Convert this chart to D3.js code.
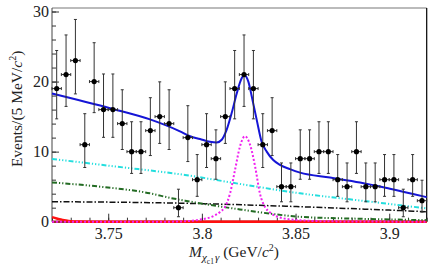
<!DOCTYPE html>
<html>
<head>
<meta charset="utf-8">
<script src="https://cdn.jsdelivr.net/npm/d3@7"></script>
<style>
  body { margin: 0; background: #fff; }
  svg text { font-family: "Liberation Serif", "Times New Roman", serif !important; fill: #222; }
</style>
</head>
<body>
<svg id="chart"></svg>
<script>
// histogram: 40 bins of 5 MeV starting at 3.72 GeV
var binStart = 3.72, binWidth = 0.005;
var counts = [19,21,23,11,20,16,16,14,10,10,13,15,14,2,12,6,11,9,15,19,
              21,19,11,13,5,5,9,9,10,10,6,5,10,5,5,6,6,2,6,3];

// fit curves (x in GeV, y in events)
var totalX = [3.72,3.751,3.7723,3.7883,3.7937,3.799,3.8043,3.8079,3.8106,3.8132,3.8159,3.8186,3.8213,3.8226,
              3.8248,3.8266,3.8293,3.8319,3.8346,3.8381,3.8417,3.847,3.8524,3.8684,3.8844,3.9004,3.92];
var totalY = [18.3,16.2,14.6,12.9,12.2,11.8,11.4,11.3,11.7,13.1,15.5,18.3,20.5,20.9,
              20.0,17.9,14.5,11.4,10.0,8.8,8.1,7.5,7.0,6.3,5.6,4.7,3.5];
var cyanX = [3.72,3.7545,3.791,3.8203,3.8524,3.8853,3.92];
var cyanY = [8.96,7.86,6.67,5.39,4.05,3.0,1.9];
var greenX = [3.72,3.7456,3.7723,3.783,3.791,3.8043,3.8203,3.8364,3.8524,3.8844,3.92];
var greenY = [5.6,5.0,4.05,3.4,3.0,2.4,1.75,1.15,0.7,0.42,0.22];
var blackX = [3.72,3.791,3.8524,3.8853,3.92];
var blackY = [2.86,2.63,2.14,1.81,1.43];
var redX = [3.72,3.7225,3.725,3.7275,3.73,3.735,3.74,3.92];
var redY = [0.65,0.45,0.3,0.17,0.08,0.02,0,0];
var flatX = [3.72,3.92];
var flatY = [0,0];
var sigX = [3.72,3.78,3.7883,3.799,3.8061,3.8097,3.8123,3.815,3.8177,3.8203,3.823,3.8257,
            3.8284,3.831,3.8337,3.8364,3.8417,3.8524,3.87,3.92];
var sigY = [0,0,0.03,0.3,0.8,1.4,2.1,4.0,7.4,10.7,12.2,11.0,7.9,4.0,2.1,1.3,0.6,0.2,0.05,0];

var xMajor = [3.75,3.8,3.85,3.9];
var yMajor = [0,10,20,30];

var W = 440, H = 273;
var margin = {top: 8, right: 13.3, bottom: 51.3, left: 52};
var width = W - margin.left - margin.right,
    height = H - margin.top - margin.bottom;
var serif = '"Liberation Serif", "Times New Roman", serif';

var svg = d3.select("#chart").attr("width", W).attr("height", H)
    .append("g")
    .attr("transform", "translate(" + margin.left + "," + margin.top + ")");

var x = d3.scaleLinear().domain([3.72, 3.92]).range([0, width]);
var y = d3.scaleLinear().domain([0, 30.5]).range([height, 0]);

// frame
svg.append("line").attr("x1", 0).attr("x2", width).attr("y1", 0).attr("y2", 0)
    .attr("stroke", "#bbb").attr("stroke-width", 2);
svg.append("line").attr("x1", width).attr("x2", width).attr("y1", 0).attr("y2", height)
    .attr("stroke", "#000").attr("stroke-width", 1.2);
svg.append("line").attr("x1", 0).attr("x2", 0).attr("y1", 0).attr("y2", height)
    .attr("stroke", "#444").attr("stroke-width", 1);

// axes, ticks pointing inward
var xMinor = svg.append("g").attr("transform", "translate(0," + height + ")")
    .call(d3.axisBottom(x).tickValues(d3.range(3.72, 3.9201, 0.01)).tickSize(-4).tickFormat(""));
var xAx = svg.append("g").attr("transform", "translate(0," + height + ")")
    .call(d3.axisBottom(x).tickValues(xMajor).tickSize(-8).tickPadding(5.5).tickFormat(d3.format("")));
var yMinor = svg.append("g")
    .call(d3.axisLeft(y).tickValues(d3.range(0, 31, 2)).tickSize(-4).tickFormat(""));
var yAx = svg.append("g")
    .call(d3.axisLeft(y).tickValues(yMajor).tickSize(-7).tickPadding(3));
[xMinor, xAx, yMinor, yAx].forEach(function(g){
    g.attr("font-family", serif).attr("font-size", 16);
    g.select(".domain").remove();
    g.selectAll("line").attr("stroke", "#333");
    g.selectAll("text").style("font-family", serif).style("font-size", "16px").attr("fill", "#222");
});

// fit components
function drawCurve(xs, ys, color, w, dash){
    var pts = xs.map(function(d, i){ return [d, ys[i]]; });
    var line = d3.line()
        .x(function(d){ return x(d[0]); })
        .y(function(d){ return y(d[1]); })
        .curve(d3.curveMonotoneX);
    svg.append("path").datum(pts)
        .attr("d", line)
        .attr("fill", "none")
        .attr("stroke", color)
        .attr("stroke-width", w)
        .attr("stroke-dasharray", dash || null);
}
drawCurve(flatX, flatY, "#9b2d2d", 2.5);
drawCurve(redX, redY, "#ff1010", 2.5);
drawCurve(blackX, blackY, "#111", 1.5, "6,2,1.5,2");
drawCurve(greenX, greenY, "#236b23", 2, "5,2,1.2,2,1.2,2");
drawCurve(cyanX, cyanY, "#22dede", 2, "5,2,1.2,2,1.2,2,1.2,2");
drawCurve(sigX, sigY, "#f020f0", 2, "2,2");
drawCurve(totalX, totalY, "#1515d6", 2);

// Poisson 68% intervals for the error bars
var alpha = 0.158655;
function poisCdf(n, mu){
    var term = Math.exp(-mu), s = term;
    for (var k = 1; k <= n; k++){ term *= mu / k; s += term; }
    return s;
}
function solve(f, lo, hi){
    for (var i = 0; i < 60; i++){
        var m = (lo + hi) / 2;
        if (f(m) > 0) lo = m; else hi = m;
    }
    return (lo + hi) / 2;
}
var points = counts.map(function(n, i){
    var up = solve(function(mu){ return poisCdf(n, mu) - alpha; }, n, n + 10 * Math.sqrt(n) + 10);
    var lo = n === 0 ? 0 : solve(function(mu){ return alpha - (1 - poisCdf(n - 1, mu)); }, 0, n);
    return {x: binStart + binWidth * (i + 0.5), n: n, lo: lo, up: up};
});

var pg = svg.append("g").attr("stroke", "#333").attr("stroke-width", 1);
points.forEach(function(p){
    var cx = x(p.x), cy = y(p.n);
    var xl = x(p.x - binWidth / 2), xr = x(p.x + binWidth / 2);
    pg.append("line").attr("x1", cx).attr("x2", cx).attr("y1", y(p.lo)).attr("y2", y(p.up));
    pg.append("line").attr("x1", cx - 1.5).attr("x2", cx + 1.5).attr("y1", y(p.up)).attr("y2", y(p.up));
    pg.append("line").attr("x1", cx - 1.5).attr("x2", cx + 1.5).attr("y1", y(p.lo)).attr("y2", y(p.lo));
    pg.append("line").attr("x1", xl).attr("x2", xr).attr("y1", cy).attr("y2", cy);
    pg.append("line").attr("x1", xl).attr("x2", xl).attr("y1", cy - 1.5).attr("y2", cy + 1.5);
    pg.append("line").attr("x1", xr).attr("x2", xr).attr("y1", cy - 1.5).attr("y2", cy + 1.5);
});
svg.append("g").selectAll("circle").data(points).enter().append("circle")
    .attr("cx", function(d){ return x(d.x); })
    .attr("cy", function(d){ return y(d.n); })
    .attr("r", 2.6)
    .attr("fill", "#000");

// axis titles
var yt = svg.append("text")
    .attr("transform", "translate(-30," + (height / 2 - 6) + ") rotate(-90)")
    .attr("text-anchor", "middle")
    .style("font-family", serif)
    .style("font-size", "15.5px");
yt.append("tspan").text("Events/(5 MeV/");
yt.append("tspan").style("font-style", "italic").text("c");
yt.append("tspan").attr("dy", -6).style("font-size", "10px").text("2");
yt.append("tspan").attr("dy", 6).text(")");

var xt = svg.append("text")
    .attr("x", x(3.8225) - 10)
    .attr("y", height + 35.5)
    .attr("text-anchor", "middle")
    .style("font-family", serif)
    .style("font-size", "15.5px");
xt.append("tspan").style("font-style", "italic").text("M");
xt.append("tspan").attr("dy", 4).style("font-size", "11px").style("font-style", "italic").text("\u03c7");
xt.append("tspan").attr("dy", 3).style("font-size", "7.5px").text("c1");
xt.append("tspan").attr("dy", -3).attr("dx", 1).style("font-size", "11px").style("font-style", "italic").text("\u03b3");
xt.append("tspan").attr("dy", -4).text(" (GeV/");
xt.append("tspan").style("font-style", "italic").text("c");
xt.append("tspan").attr("dy", -6).style("font-size", "10px").text("2");
xt.append("tspan").attr("dy", 6).text(")");
</script>
</body>
</html>
